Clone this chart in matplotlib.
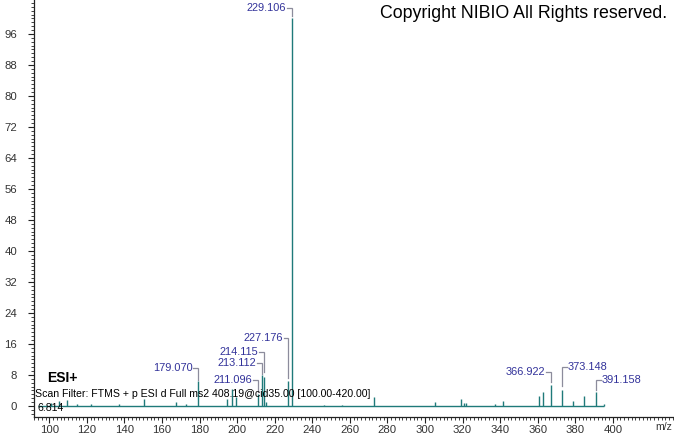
import matplotlib
matplotlib.use("Agg")
import matplotlib.pyplot as plt
from matplotlib.ticker import MultipleLocator

plt.rcParams['font.family'] = ['Liberation Sans', 'DejaVu Sans']

# ---- data ----
peak_mz = [101.0, 105.0, 109.5, 115.0, 122.0, 137.0, 150.6, 167.4, 173.0,
           179.070, 194.6, 197.2, 199.2, 211.096, 213.112, 214.115, 215.2,
           227.176, 229.106, 246.0, 256.0, 272.8, 305.1, 319.3, 320.8, 321.8,
           337.3, 341.3, 360.8, 362.9, 366.922, 373.148, 379.0, 384.7,
           391.158, 395.3]
peak_int = [0.8, 1.2, 1.5, 0.6, 0.5, 0.4, 1.8, 1.0, 0.5,
            6.5, 1.9, 4.3, 2.2, 3.2, 8.1, 7.6, 1.0,
            6.4, 100.0, 0.3, 0.3, 2.2, 1.0, 1.7, 0.7, 0.7,
            0.5, 1.3, 2.7, 3.5, 5.4, 4.0, 1.2, 2.7,
            3.7, 0.5]
baseline_range = [94.0, 395.5]

label_mz = [229.106, 227.176, 214.115, 213.112, 211.096, 179.070,
            366.922, 373.148, 391.158]
label_text = ["229.106", "227.176", "214.115", "213.112", "211.096", "179.070",
              "366.922", "373.148", "391.158"]

x_ticks = list(range(100, 401, 20))
y_ticks = list(range(0, 97, 8))

# ---- layout ----
W, H = 674, 434
fig = plt.figure(figsize=(W / 100, H / 100), dpi=100)
ax = fig.add_axes([34 / W, (H - 417) / H, 1 - 34 / W, 417 / H])

peak_color = '#1f7a7a'
ax.vlines(peak_mz, 0, peak_int, color=peak_color, linewidth=1.0)
ax.hlines(0, baseline_range[0], baseline_range[1], color=peak_color, linewidth=1.0)

ax.set_xlim(91.85, 432.6)
ax.set_ylim(-2.84, 104.77)

for s in ['top', 'right']:
    ax.spines[s].set_visible(False)
for s in ['left', 'bottom']:
    ax.spines[s].set_color('#222222')
    ax.spines[s].set_linewidth(0.9)

ax.set_xticks(x_ticks)
ax.set_xticklabels([str(t) for t in x_ticks])
ax.set_yticks(y_ticks)
ax.set_yticklabels([str(t) for t in y_ticks])
ax.xaxis.set_minor_locator(MultipleLocator(2))
ax.yaxis.set_minor_locator(MultipleLocator(1))
ax.tick_params(axis='both', which='major', length=4, width=0.8, color='#222222',
               labelsize=8.2, labelcolor='#333333')
ax.tick_params(axis='both', which='minor', length=2.2, width=0.6, color='#222222')
ax.tick_params(axis='x', which='major', pad=1.5)
ax.tick_params(axis='y', which='major', pad=8)

# ---- peak labels with brackets ----
label_color = '#32329a'
bracket_color = '#8c8c9c'
px_x = 640 / (432.6 - 91.85)
px_y = 417 / (104.77 + 2.84)
# (label level in pixel rows from top, side, bracket bottom row)
label_layout = {
    "229.106": (8, 'L', 16),
    "227.176": (338, 'L', 378),
    "214.115": (352, 'L', 372),
    "213.112": (363, 'L', 374),
    "211.096": (380, 'L', 392),
    "179.070": (368, 'L', 380),
    "366.922": (372, 'L', 382),
    "373.148": (367, 'R', 386),
    "391.158": (380, 'R', 390),
}
for mz, txt in zip(label_mz, label_text):
    row, side, bot = label_layout[txt]
    ly = (406 - row) / px_y
    by = (406 - bot) / px_y
    hw = 4.5 / px_x
    sgn = -1 if side == 'L' else 1
    ax.plot([mz, mz, mz + sgn * hw], [by, ly, ly], color=bracket_color, linewidth=0.9,
            solid_joinstyle='miter')
    ax.text(mz + sgn * (hw + 0.6 / px_x * 1.5), ly, txt, color=label_color,
            fontsize=7.9, ha='right' if side == 'L' else 'left', va='center')

# ---- annotations ----
fig.text(667 / W, (H - 14) / H, "Copyright NIBIO All Rights reserved.",
         fontsize=12.8, ha='right', va='center', color='black')
fig.text(47 / W, (H - 378) / H, "ESI+", fontsize=10, fontweight='bold',
         ha='left', va='center', color='black')
fig.text(35 / W, (H - 394) / H,
         "Scan Filter: FTMS + p ESI d Full ms2 408.19@cid35.00 [100.00-420.00]",
         fontsize=7.6, ha='left', va='center', color='black')
fig.text(38 / W, (H - 408) / H, "6.814", fontsize=7.6, ha='left', va='center',
         color='black')
fig.text(664 / W, (H - 427) / H, "m/z", fontsize=7.6, ha='center', va='center',
         color='#333333')

fig.savefig("out.png", dpi=100)
